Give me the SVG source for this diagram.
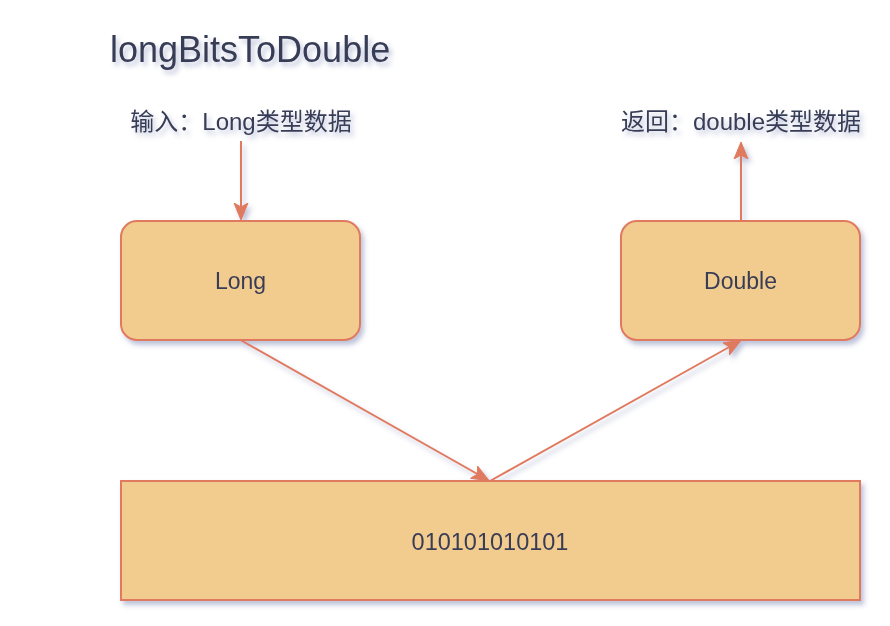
<svg xmlns="http://www.w3.org/2000/svg" width="890" height="626" viewBox="0 0 890 626">
<style>
.t{font-family:"Liberation Sans","Noto Sans CJK SC",sans-serif;fill:#393C56}
.box{fill:#F2CC8F;stroke:#E07A5F;stroke-width:2}
.edge{fill:none;stroke:#E07A5F;stroke-width:2}
</style>
<defs>
<filter id="sh" x="-10%" y="-10%" width="130%" height="140%">
<feGaussianBlur in="SourceAlpha" stdDeviation="2.5"/>
<feOffset dx="3" dy="4" result="b"/>
<feFlood flood-color="#5a6aa0" flood-opacity="0.4"/>
<feComposite in2="b" operator="in"/>
<feMerge><feMergeNode/><feMergeNode in="SourceGraphic"/></feMerge>
</filter>
<marker id="arr" markerUnits="userSpaceOnUse" markerWidth="20" markerHeight="16" refX="16" refY="7" orient="auto" viewBox="0 0 20 14">
<path d="M0,0 L17,7 L0,14 L4,7 Z" fill="#E07A5F" stroke="#E07A5F" stroke-width="1"/>
</marker>
</defs>
<g filter="url(#sh)">
<g id="title"><text class="t" x="110" y="62" font-size="36">longBitsToDouble</text></g>
<g id="input-label"><text class="t" x="241" y="130" font-size="24" text-anchor="middle">输入：Long类型数据</text></g>
<g id="output-label"><text class="t" x="741" y="130" font-size="24" text-anchor="middle">返回：double类型数据</text></g>
<g id="long"><rect class="box" x="121" y="221" width="239" height="119" rx="16"/><text class="t" x="240.5" y="289" font-size="23" text-anchor="middle">Long</text></g>
<g id="double"><rect class="box" x="621" y="221" width="239" height="119" rx="16"/><text class="t" x="740.5" y="289" font-size="23" text-anchor="middle">Double</text></g>
<g id="bits"><rect class="box" x="121" y="481" width="739" height="119"/><text class="t" x="490" y="550" font-size="23.5" text-anchor="middle">010101010101</text></g>
<g id="connectors">
<path class="edge" d="M241,141 L241,219" marker-end="url(#arr)"/>
<path class="edge" d="M741,220 L741,143" marker-end="url(#arr)"/>
<path class="edge" d="M240.5,340 L488,480" marker-end="url(#arr)"/>
<path class="edge" d="M490,481 L740,341" marker-end="url(#arr)"/>
</g>
</g>
</svg>
